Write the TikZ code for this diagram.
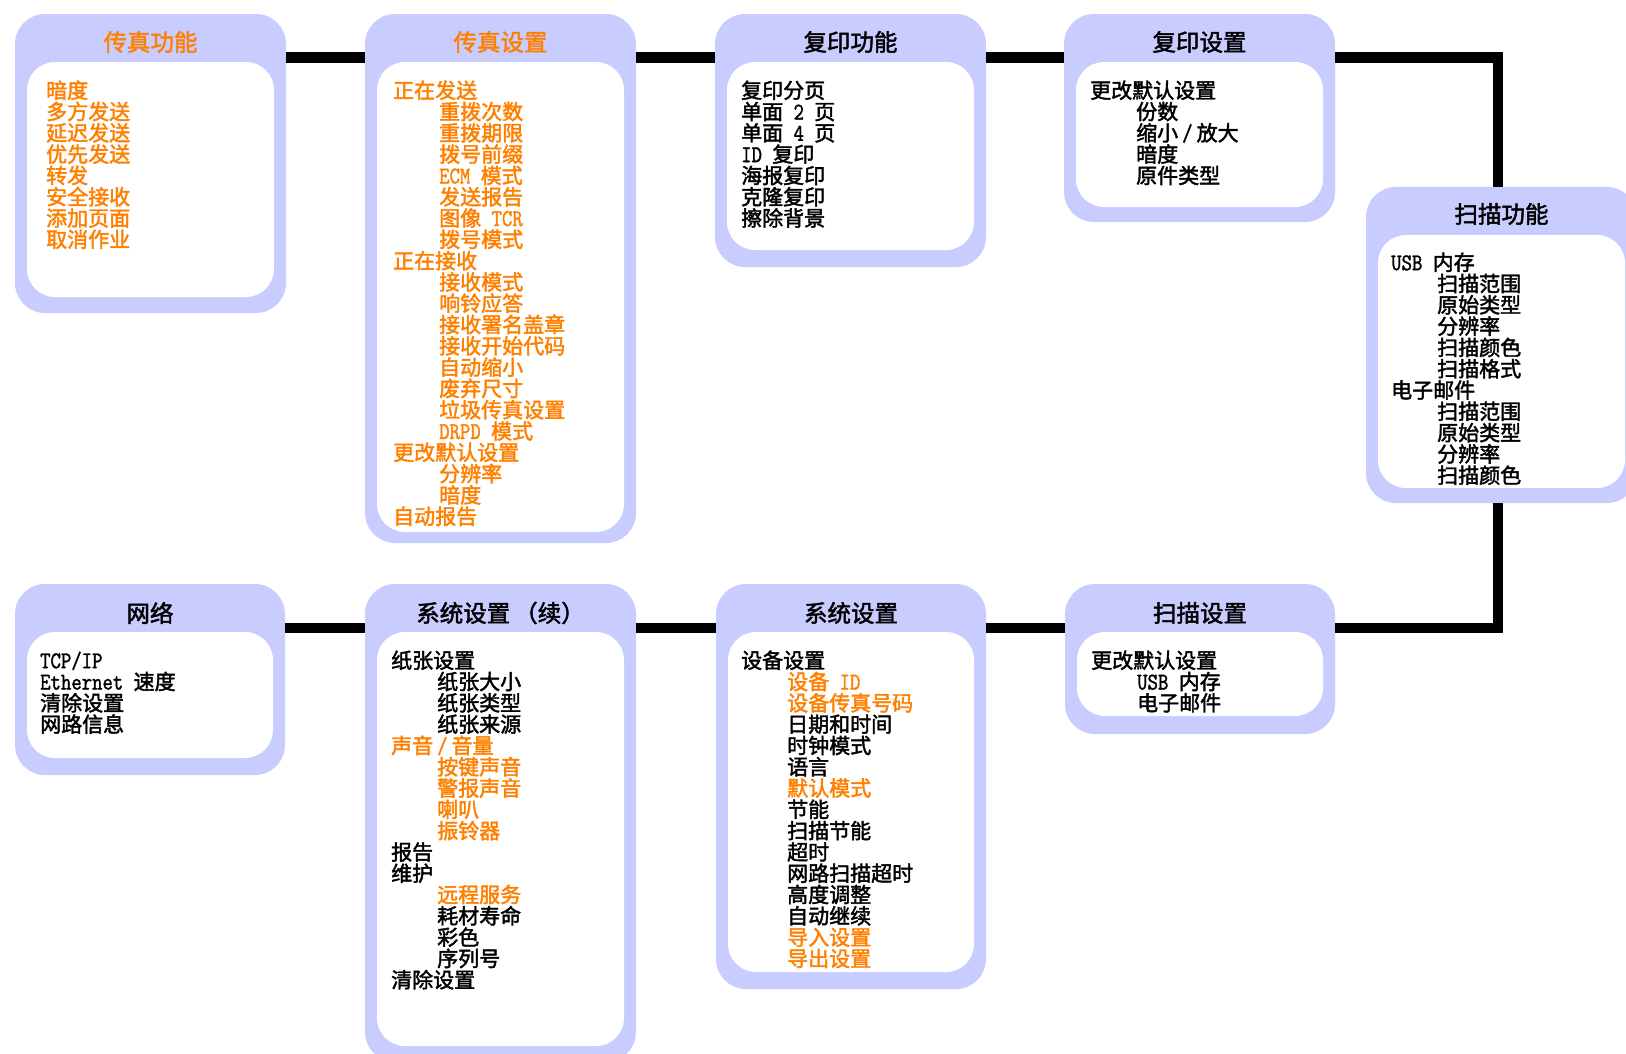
\documentclass[tikz,border=0pt]{standalone}
\usepackage{fontspec}
\setmainfont{Noto Sans CJK SC}[FakeBold=2]
\newfontfamily\latf{Latin Modern Mono}[FakeStretch=0.84, FakeBold=1.5]
\definecolor{lav}{RGB}{200,204,255}
\definecolor{orng}{RGB}{255,128,0}
\newcommand\lt[1]{{\latf\fontsize{24pt}{21.3pt}\selectfont #1}}
\newcommand\ind{\hspace*{46pt}}
\newcommand\oc[1]{\textcolor{orng}{#1}}
\newcommand\fl{\rule{0pt}{20pt}}
\newcommand\slsh{\kern4pt\lt{/}\kern4pt}
\newcommand\panel[6]{%
  \node[outerbox, anchor=north west, minimum width={#4-#2}, minimum height={#5-#3}] (#1) at (#2,#3) {};
  \node[innerbox, anchor=north west, minimum width={#4-#2-24}, minimum height={#6-#3-48}] (#1-in) at ({#2+12},{#3+48}) {};
}
\tikzset{
  outerbox/.style={fill=lav, rounded corners=30pt, inner sep=0pt, outer sep=0pt},
  innerbox/.style={fill=white, rounded corners=28pt, inner sep=0pt, outer sep=0pt},
  ttl/.style={font=\fontsize{23.5pt}{26pt}\selectfont, inner sep=0pt},
  body/.style={font=\fontsize{21pt}{21.3pt}\selectfont, align=left, inner sep=0pt, anchor=north west},
  conn/.style={line width=10.5pt, draw=black},
}
\begin{document}
\setlength{\lineskiplimit}{-100pt}%
\begin{tikzpicture}[x=1pt,y=-1pt]
\useasboundingbox (0,0) rectangle (1626,1053);
% panels
\panel{fax}{15}{14}{286}{313}{297}
\panel{faxset}{365}{14}{636}{543}{532}
\panel{copy}{715}{14}{986}{267}{250}
\panel{copyset}{1064}{14}{1335}{222}{207}
\panel{scan}{1366}{187}{1637}{503}{488}
\panel{net}{15}{584}{285}{775}{758}
\panel{systwo}{365}{584}{636}{1062}{1046}
\panel{sys}{716}{584}{986}{989}{972}
\panel{scanset}{1065}{584}{1335}{734}{716}
% titles
\node[ttl, text=orng] (fax-t) at (150.5,42) {传真功能};
\node[ttl, text=orng] (faxset-t) at (500.5,42) {传真设置};
\node[ttl] (copy-t) at (850.5,42) {复印功能};
\node[ttl] (copyset-t) at (1199.5,42) {复印设置};
\node[ttl] (scan-t) at (1501.5,214) {扫描功能};
\node[ttl] (net-t) at (150,613) {网络};
\node[ttl] (systwo-t) at (500.5,613) {系统设置\kern4pt（续）};
\node[ttl] (sys-t) at (851,613) {系统设置};
\node[ttl] (scanset-t) at (1200,613) {扫描设置};
% bodies
\node[body, text=orng] (fax-x) at (46,78) {\fl 暗度\\多方发送\\延迟发送\\优先发送\\转发\\安全接收\\添加页面\\取消作业};
\node[body, text=orng] (faxset-x) at (393,78) {\fl 正在发送\\\ind 重拨次数\\\ind 重拨期限\\\ind 拨号前缀\\\ind\lt{ECM }模式\\\ind 发送报告\\\ind 图像\lt{ TCR}\\\ind 拨号模式\\正在接收\\\ind 接收模式\\\ind 响铃应答\\\ind 接收署名盖章\\\ind 接收开始代码\\\ind 自动缩小\\\ind 废弃尺寸\\\ind 垃圾传真设置\\\ind\lt{DRPD }模式\\更改默认设置\\\ind 分辨率\\\ind 暗度\\自动报告};
\node[body] (copy-x) at (741,78) {\fl 复印分页\\单面\lt{ 2 }页\\单面\lt{ 4 }页\\\lt{ID }复印\\海报复印\\克隆复印\\擦除背景};
\node[body] (copyset-x) at (1090,78) {\fl 更改默认设置\\\ind 份数\\\ind 缩小\slsh 放大\\\ind 暗度\\\ind 原件类型};
\node[body] (scan-x) at (1391,250) {\fl\lt{USB }内存\\\ind 扫描范围\\\ind 原始类型\\\ind 分辨率\\\ind 扫描颜色\\\ind 扫描格式\\电子邮件\\\ind 扫描范围\\\ind 原始类型\\\ind 分辨率\\\ind 扫描颜色};
\node[body] (net-x) at (40,648) {\fl\lt{TCP/IP}\\\lt{Ethernet }速度\\清除设置\\网路信息};
\node[body] (systwo-x) at (391,648) {\fl 纸张设置\\\ind 纸张大小\\\ind 纸张类型\\\ind 纸张来源\\\oc{声音\slsh 音量}\\\ind\oc{按键声音}\\\ind\oc{警报声音}\\\ind\oc{喇叭}\\\ind\oc{振铃器}\\报告\\维护\\\ind\oc{远程服务}\\\ind 耗材寿命\\\ind 彩色\\\ind 序列号\\清除设置};
\node[body] (sys-x) at (741,648) {\fl 设备设置\\\ind\oc{设备\lt{ ID}}\\\ind\oc{设备传真号码}\\\ind 日期和时间\\\ind 时钟模式\\\ind 语言\\\ind\oc{默认模式}\\\ind 节能\\\ind 扫描节能\\\ind 超时\\\ind 网路扫描超时\\\ind 高度调整\\\ind 自动继续\\\ind\oc{导入设置}\\\ind\oc{导出设置}};
\node[body] (scanset-x) at (1091,648) {\fl 更改默认设置\\\ind\lt{USB }内存\\\ind 电子邮件};
% connectors
\coordinate (r1) at (0,57.5);
\coordinate (r2) at (0,628);
\coordinate (vx) at (1498,0);
\draw[conn] (fax.east |- r1) -- (faxset.west |- r1);
\draw[conn] (faxset.east |- r1) -- (copy.west |- r1);
\draw[conn] (copy.east |- r1) -- (copyset.west |- r1);
\draw[conn] (copyset.east |- r1) -| (vx |- scan.north);
\draw[conn] (vx |- scan.south) |- (scanset.east |- r2);
\draw[conn] (scanset.west |- r2) -- (sys.east |- r2);
\draw[conn] (sys.west |- r2) -- (systwo.east |- r2);
\draw[conn] (systwo.west |- r2) -- (net.east |- r2);
\end{tikzpicture}
\end{document}
